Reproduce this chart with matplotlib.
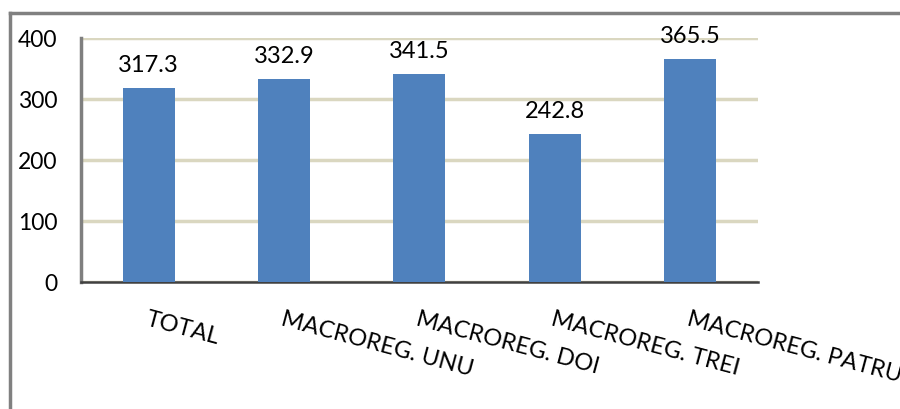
import matplotlib
matplotlib.use("Agg")
import matplotlib.pyplot as plt
from matplotlib.lines import Line2D

# Values
categories = ["TOTAL", "MACROREG. UNU", "MACROREG. DOI", "MACROREG. TREI", "MACROREG. PATRU"]
values = [317.3, 332.9, 341.5, 242.8, 365.5]
value_labels = ["317.3", "332.9", "341.5", "242.8", "365.5"]
yticks = [0, 100, 200, 300, 400]

BAR_COLOR = "#4F81BD"
GRID_COLOR = "#DAD7C0"
FONT = "Lato"

fig = plt.figure(figsize=(9, 4.09), dpi=100)
ax = fig.add_axes([0.09, 0.3105, 0.752, 0.5965])

x = list(range(len(categories)))
ax.bar(x, values, width=0.385, color=BAR_COLOR, zorder=3)

for xi, v, lbl in zip(x, values, value_labels):
    ax.annotate(lbl, (xi, v), xytext=(0, 12), textcoords="offset pixels",
                ha="center", va="bottom", fontsize=17, family=FONT, zorder=4)

ax.set_xlim(-0.5, len(categories) - 0.5)
ax.set_ylim(0, 400)
ax.set_yticks(yticks)
ax.set_yticklabels([str(t) for t in yticks], fontsize=16.5, family=FONT)
ax.yaxis.grid(True, color=GRID_COLOR, linewidth=2.5, zorder=0)
ax.set_axisbelow(True)

ax.set_xticks(x)
ax.set_xticklabels(categories, rotation=-15, rotation_mode="anchor",
                   ha="left", va="top", fontsize=17, family=FONT)
ax.tick_params(axis="both", length=0)
ax.tick_params(axis="y", pad=17)
ax.tick_params(axis="x", pad=19)

for side in ("top", "right"):
    ax.spines[side].set_visible(False)
ax.spines["left"].set_color("#7F7F7F")
ax.spines["left"].set_linewidth(2.5)
ax.spines["bottom"].set_color("#404040")
ax.spines["bottom"].set_linewidth(1.8)

# outer frame (cut off at right and bottom in the reference)
fx = 10 / 900
fy = 1 - 13 / 409
fig.add_artist(Line2D([fx, fx], [0, fy], transform=fig.transFigure,
                      color="#808080", linewidth=2.5))
fig.add_artist(Line2D([fx, 1], [fy, fy], transform=fig.transFigure,
                      color="#808080", linewidth=2.5))

fig.savefig("out.png", dpi=100)
